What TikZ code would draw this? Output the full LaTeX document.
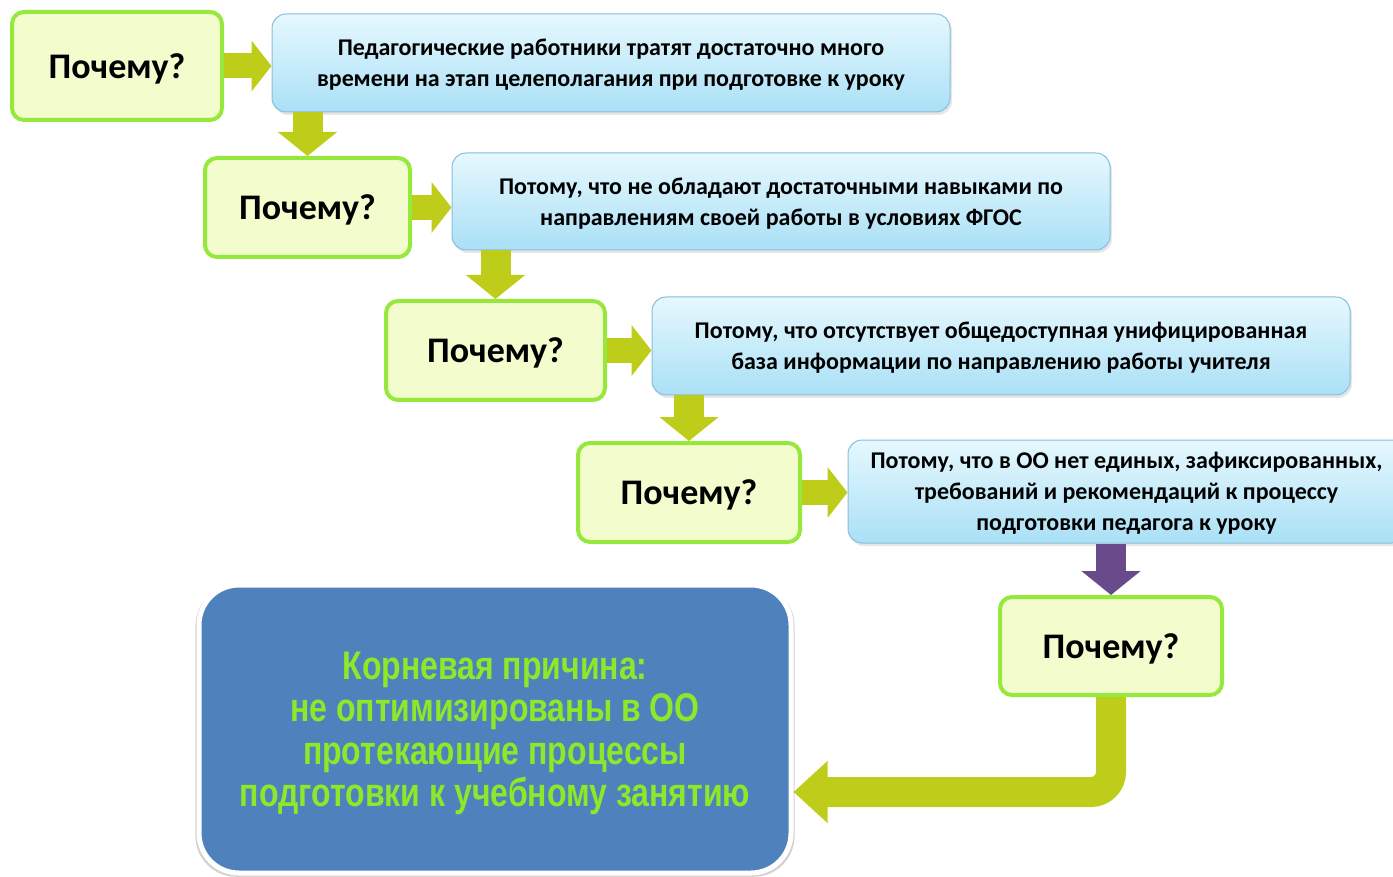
\documentclass[tikz,border=0pt]{standalone}
\usepackage{fontspec}
\setmainfont{Carlito}
\newfontfamily\rootfont[FakeStretch=0.8]{Liberation Sans}
\usetikzlibrary{arrows.meta,shadows}

\definecolor{whyfill}{RGB}{242,252,204}
\definecolor{whyline}{RGB}{150,232,60}
\definecolor{bluetop}{RGB}{230,248,254}
\definecolor{bluebot}{RGB}{170,224,246}
\definecolor{blueline}{RGB}{135,190,220}
\definecolor{arrowgreen}{RGB}{190,205,25}
\definecolor{arrowpurple}{RGB}{105,75,140}
\definecolor{rootfill}{RGB}{79,129,189}
\definecolor{roottext}{RGB}{140,232,40}

\tikzset{
  why/.style={draw=whyline, line width=4pt, fill=whyfill, rounded corners=12pt,
    font=\bfseries\fontsize{36}{40}\selectfont, text depth=0pt, minimum height=99pt},
  because/.style={draw=blueline, line width=1pt, top color=bluetop, bottom color=bluebot,
    rounded corners=14pt, align=center, font=\bfseries\fontsize{24}{31}\selectfont,
    text depth=0pt, drop shadow={opacity=.2, shadow xshift=2pt, shadow yshift=-3pt}},
  rightarrow/.style={line width=25pt, arrowgreen, -{Triangle[width=50pt,length=20pt]}},
  downarrow/.style={line width=30pt, #1, -{Triangle[width=58pt,length=24pt]}},
  downarrow/.default=arrowgreen,
  bentarrow/.style={line width=30pt, arrowgreen, rounded corners=20pt,
    -{Triangle[width=60pt,length=34pt]}}
}

\begin{document}
\begin{tikzpicture}[x=1pt,y=-1pt]
  \useasboundingbox (0,0) rectangle (1393,877);

  % why boxes
  \node[why, minimum width=210pt, minimum height=108pt] (w1) at (117,66) {Почему?};
  \node[why, minimum width=205pt] (w2) at (307.5,207.5) {Почему?};
  \node[why, minimum width=219pt] (w3) at (495.5,350.5) {Почему?};
  \node[why, minimum width=222pt] (w4) at (689,492.5) {Почему?};
  \node[why, minimum width=222pt, minimum height=98pt] (w5) at (1111,646) {Почему?};

  % answers
  \node[because, minimum width=678pt, minimum height=98pt] (p1) at (611,63)
    {Педагогические работники тратят достаточно много\\времени на этап целеполагания при подготовке к уроку};
  \node[because, minimum width=658pt, minimum height=97pt] (p2) at (781,201.5)
    {Потому, что не обладают достаточными навыками по\\направлениям своей работы в условиях ФГОС};
  \node[because, minimum width=698pt, minimum height=98pt] (p3) at (1001,346)
    {Потому, что отсутствует общедоступная унифицированная\\база информации по направлению работы учителя};
  \node[because, minimum width=557pt, minimum height=103pt] (p4) at (1126.5,491.5)
    {Потому, что в ОО нет единых, зафиксированных,\\требований и рекомендаций к процессу\\подготовки педагога к уроку};

  % root cause
  \node[draw=white, line width=5pt, fill=rootfill, rounded corners=40pt,
    minimum width=592pt, minimum height=288pt, align=center, text=roottext,
    font=\rootfont\bfseries\fontsize{40}{42.5}\selectfont, text depth=0pt,
    drop shadow={opacity=.35, shadow xshift=0pt, shadow yshift=-2pt, shadow scale=1.012}] (root) at (495,729)
    {Корневая причина:\\не оптимизированы в ОО\\протекающие процессы\\подготовки к учебному занятию};

  % arrows
  \draw[rightarrow] (w1.east) -- (p1.west |- w1.east);
  \draw[rightarrow] (w2.east) -- (p2.west |- w2.east);
  \draw[rightarrow] (w3.east) -- (p3.west |- w3.east);
  \draw[rightarrow] (w4.east) -- (p4.west |- w4.east);
  \draw[downarrow] (p1.south -| w2.north) -- (w2.north);
  \draw[downarrow] (p2.south -| w3.north) -- (w3.north);
  \draw[downarrow] (p3.south -| w4.north) -- (w4.north);
  \draw[downarrow=arrowpurple] (p4.south -| w5.north) -- (w5.north);
  \draw[bentarrow] (w5.south) |- ([yshift=-63pt]root.east);
\end{tikzpicture}
\end{document}
